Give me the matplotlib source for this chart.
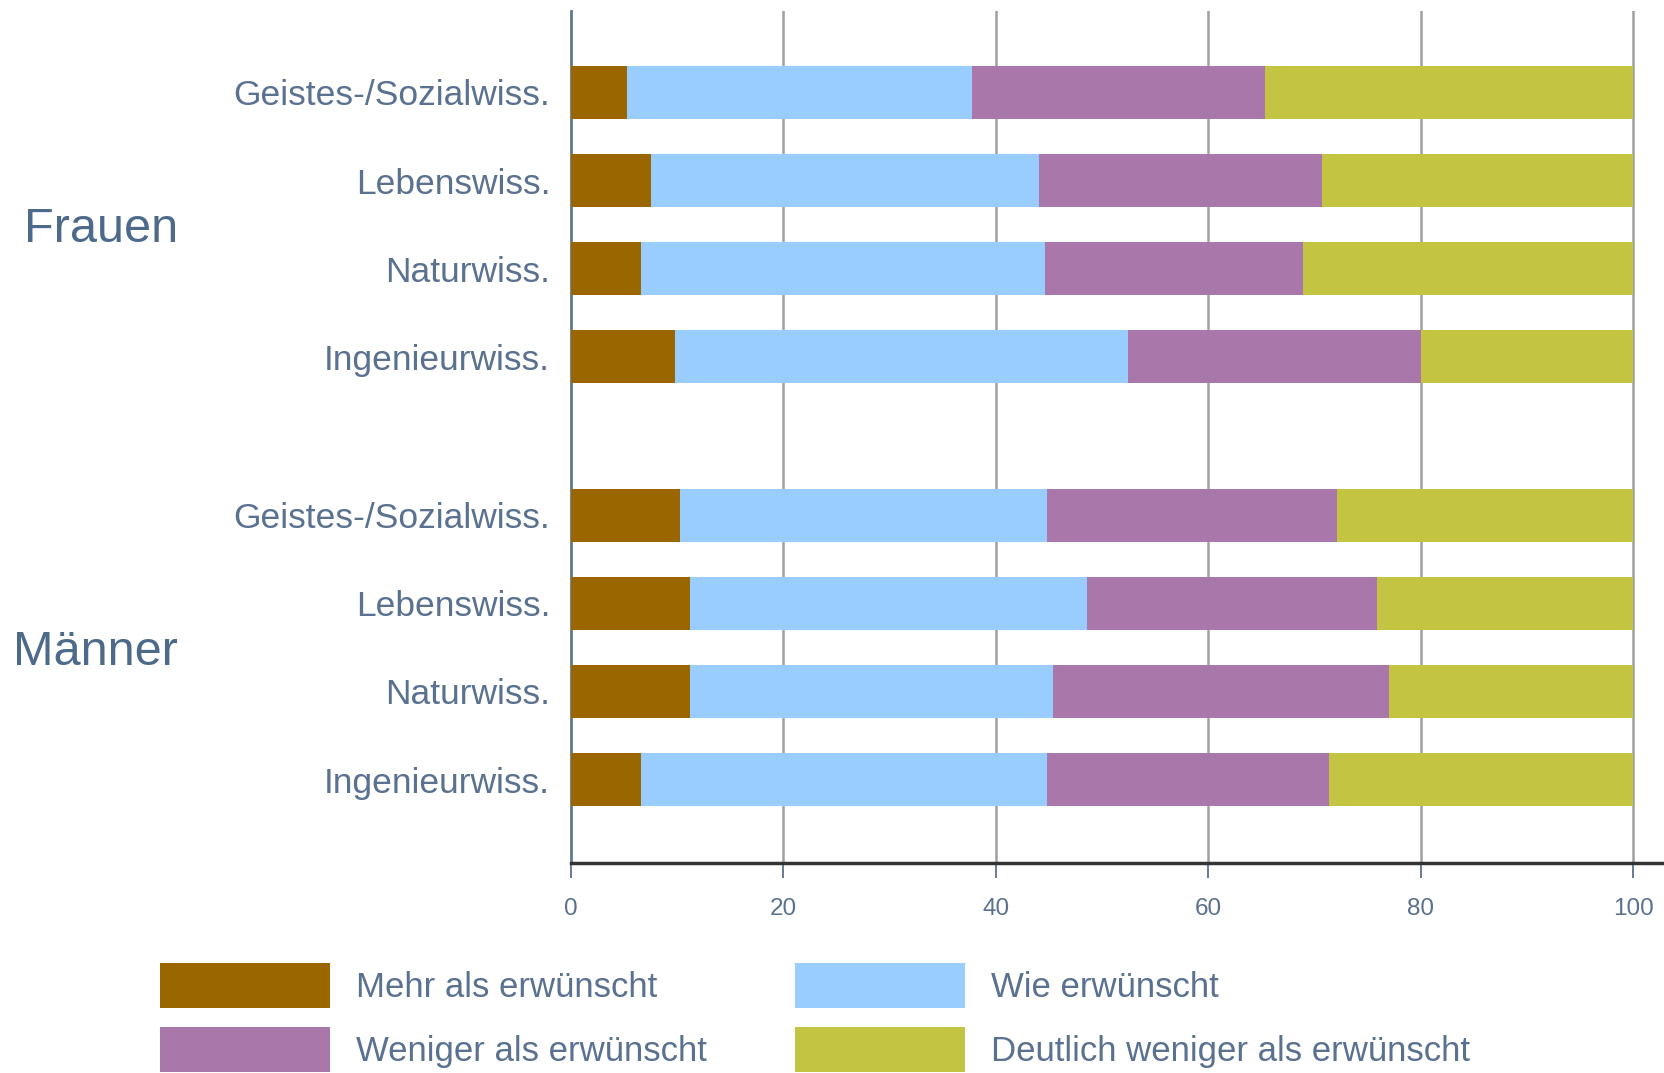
import numpy as np
import matplotlib

matplotlib.use("Agg")
import matplotlib.pyplot as plt

plt.rcParams["font.family"] = ["Liberation Sans", "DejaVu Sans"]

# Anteile in Prozent, je Fachgruppe (oben nach unten)
fields = ["Geistes-/Sozialwiss.", "Lebenswiss.", "Naturwiss.", "Ingenieurwiss."]
groups = ["Frauen", "Männer"]
series_names = ["Mehr als erwünscht", "Wie erwünscht",
                "Weniger als erwünscht", "Deutlich weniger als erwünscht"]
colors = ["#996600", "#99ccff", "#aa77aa", "#c4c443"]

frauen_mehr = [5.3, 7.5, 6.6, 9.8]
frauen_wie = [32.5, 36.6, 38.0, 42.6]
frauen_weniger = [27.5, 26.6, 24.3, 27.6]
frauen_deutlich = [34.7, 29.3, 31.1, 20.0]

maenner_mehr = [10.3, 11.2, 11.2, 6.6]
maenner_wie = [34.5, 37.4, 34.2, 38.2]
maenner_weniger = [27.3, 27.3, 31.6, 26.6]
maenner_deutlich = [27.9, 24.1, 23.0, 28.6]

x_ticks = [0, 20, 40, 60, 80, 100]

TEXT = "#5a7190"
GROUP_TEXT = "#4d6a8a"

fig = plt.figure(figsize=(16.65, 10.73), dpi=100)
ax = fig.add_axes([571 / 1665, 1 - 863 / 1073, 1 - 571 / 1665, (863 - 11) / 1073])

gap = 1.8
pos_f = np.arange(len(fields), dtype=float)
pos_m = pos_f + len(fields) - 1 + gap
data = {
    "Frauen": (pos_f, [frauen_mehr, frauen_wie, frauen_weniger, frauen_deutlich]),
    "Männer": (pos_m, [maenner_mehr, maenner_wie, maenner_weniger, maenner_deutlich]),
}

handles = []
for g in groups:
    pos, segs = data[g]
    left = np.zeros(len(fields))
    for i, vals in enumerate(segs):
        bars = ax.barh(pos, vals, left=left, height=0.6, color=colors[i],
                       linewidth=0, label=series_names[i], zorder=3)
        if g == "Frauen":
            handles.append(bars)
        left += np.array(vals)
    ax.text(-0.359, pos.mean() + 0.06, g, transform=ax.get_yaxis_transform(),
            ha="right", va="center", fontsize=35, color=GROUP_TEXT)

all_pos = np.concatenate([pos_f, pos_m])
ax.set_yticks(all_pos)
ax.set_yticklabels(fields + fields, fontsize=25.5, color=TEXT)
ax.tick_params(axis="y", length=0, pad=15)

ax.set_xlim(0, 103)
ax.set_ylim(8.747, -0.924)
ax.set_xticks(x_ticks)
ax.set_xticklabels([str(t) for t in x_ticks], fontsize=17.5, color=TEXT)
ax.tick_params(axis="x", direction="out", length=11, width=1.3, color=TEXT, pad=14)

for t in x_ticks[1:]:
    ax.axvline(t, color="#a0a0a0", linewidth=1.8, zorder=1)

for s in ["top", "right"]:
    ax.spines[s].set_visible(False)
ax.spines["left"].set_color("#607890")
ax.spines["left"].set_linewidth(2)
ax.spines["bottom"].set_color("#333333")
ax.spines["bottom"].set_linewidth(2.5)

# legend fills column-wise: order so rows read Mehr/Wie, Weniger/Deutlich
order = [0, 2, 1, 3]
fig.legend([handles[i] for i in order], [series_names[i] for i in order],
           loc="upper left", bbox_to_anchor=(160 / 1665, 1 - 963 / 1073),
           ncol=2, frameon=False, fontsize=25, labelcolor=TEXT,
           handlelength=4.9, handleheight=1.62, handletextpad=0.75,
           columnspacing=2.54, labelspacing=0.55, borderpad=0, borderaxespad=0)

fig.savefig("out.png", dpi=100)
